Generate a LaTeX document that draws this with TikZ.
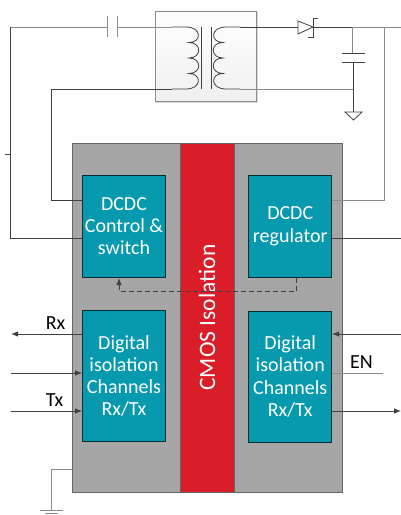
\documentclass[tikz,border=0pt]{standalone}
\usepackage{fontspec}
\usetikzlibrary{arrows.meta}
\setmainfont{Carlito}
\definecolor{tealbox}{HTML}{0799AD}
\definecolor{redbar}{HTML}{D91E2A}
\definecolor{graybox}{HTML}{A6A6A6}
\definecolor{wiredark}{HTML}{404040}
\definecolor{wirelight}{HTML}{8C8C8C}
\tikzset{
    block/.style={draw=black!70!tealbox, fill=tealbox, text=white, align=center, line width=0.8pt, inner sep=0pt,
        minimum width=83pt, font=\fontsize{20}{22.2}\selectfont},
    wire/.style={draw=wiredark, line width=0.8pt},
    lightwire/.style={draw=wirelight, line width=0.9pt},
    label/.style={font=\fontsize{20}{22}\selectfont, text=black, inner sep=0pt},
    >={Latex[length=7pt,width=5.5pt]}
}
\begin{document}
\begin{tikzpicture}[x=1pt, y=-1pt]
    \useasboundingbox (0,0) rectangle (401,515);

    % Transformer box
    \node[draw=black!15, fill=black!15, minimum width=101pt, minimum height=90pt] (shade) at (206.5,57) {};
    \node[draw=wirelight, line width=0.8pt, top color=white, bottom color=black!6, minimum width=101pt, minimum height=90pt, inner sep=0pt] (trafo) at (205.5,56) {};

    % Package
    \node[draw=black!60, fill=graybox, line width=1pt, minimum width=270pt, minimum height=349pt, inner sep=0pt] (chip) at (207,317.5) {};
    \node[draw=black!60, fill=redbar, text=white, line width=0.8pt, rotate=90, minimum width=349pt, minimum height=54pt, inner sep=0pt, font=\fontsize{23.5}{26}\selectfont] (iso) at (207,317.5) {CMOS Isolation};

    % Blocks
    \node[block, minimum height=101.5pt] (ctrl) at (124,226.25) {DCDC\\Control \&\\switch};
    \node[block, minimum height=101.5pt] (reg) at (290.25,226.25) {DCDC\\regulator};
    \node[block, minimum height=131pt] (digl) at (124,376) {Digital\\isolation\\Channels\\Rx/Tx};
    \node[block, minimum height=131pt] (digr) at (290.25,376.5) {Digital\\isolation\\Channels\\Rx/Tx};

    % Free ends
    \coordinate (capa) at (107,27);
    \coordinate (capb) at (117,27);
    \coordinate (priA) at (172,27);
    \coordinate (priB) at (172,89);
    \coordinate (secA) at (240,27);
    \coordinate (secB) at (240,89);
    \coordinate (diodeA) at (298,27);
    \coordinate (diodeB) at (313,27);
    \coordinate (capc) at (352,53);
    \coordinate (capd) at (353,62);
    \coordinate (gndA) at (353,112);
    \coordinate (gndB) at (51,510);

    % Coils
    \draw[wire] (priA) -- (186,27) .. controls (202,27) and (202,42.5) .. (189,42.5)
        .. controls (202,42.5) and (202,58) .. (189,58)
        .. controls (202,58) and (202,73.5) .. (189,73.5)
        .. controls (202,73.5) and (202,89) .. (186,89) -- (priB);
    \draw[wire] (secA) -- (226,27) .. controls (210,27) and (210,42.5) .. (223,42.5)
        .. controls (210,42.5) and (210,58) .. (223,58)
        .. controls (210,58) and (210,73.5) .. (223,73.5)
        .. controls (210,73.5) and (210,89) .. (226,89) -- (secB);
    \draw[wire] (201,27) -- (201,89);
    \draw[wire] (211,27) -- (211,89);

    % Primary side
    \draw[lightwire] (10,27) -- (capa);
    \draw[wire] (ctrl.west |- 0,238) -- (10,238) -- (10,27);
    \draw[lightwire] (capa |- 0,16) -- (capa |- 0,37);
    \draw[lightwire] (capb |- 0,16) -- (capb |- 0,37);
    \draw[lightwire] (capb) -- (priA);
    \draw[wire] (priB) -- (51,89) -- (51,200) -- (ctrl.west |- 0,200);
    \draw[wire] (5,154) -- (10,154);

    % Secondary side
    \draw[wire] (secA) -- (diodeA);
    \draw[wire, fill=white] (diodeA |- 0,21) -- (diodeB) -- (diodeA |- 0,34) -- cycle;
    \draw[wire] (318,18) -- (diodeB |- 0,18) -- (diodeB |- 0,37) -- (308,37);
    \draw[wire] (diodeB) -- (352,27);
    \draw[lightwire] (352,27) -- (401,27);
    \draw[lightwire] (352,27) -- (capc);
    \draw[wire] (342,53) -- (365,53);
    \draw[wire] (342,62) -- (365,62);
    \draw[wire] (capd) -- (gndA);
    \draw[lightwire] (secB) -- (353,89);
    \draw[wire, fill=white] (345,112) -- (362,112) -- (353.5,120) -- cycle;
    \draw[lightwire] (384,27) -- (384,200) -- (reg.east |- 0,200);
    \draw[wire] (reg.east |- 0,238) -- (401,238);

    % Feedback
    \draw[wire, dash pattern=on 5pt off 3pt, ->] (296,278) -- (296,291.5) -- (119,291.5) -- (119,278);

    % Signals
    \draw[wire, ->] (digl.west |- 0,334) -- (11,334) node[midway, above=4pt, label, xshift=9pt] (rx) {Rx};
    \draw[wire, ->] (11,373) -- (digl.west |- 0,373);
    \draw[wire, ->] (11,411) -- (digl.west |- 0,411) node[midway, above=4pt, label, xshift=8pt] (tx) {Tx};
    \draw[wire, ->] (401,334) -- (digr.east |- 0,334);
    \draw[lightwire] (digr.east |- 0,373) -- (383,373) node[midway, above=4pt, label, xshift=4pt] (en) {EN};
    \draw[wire, ->] (digr.east |- 0,411) -- (401,411);

    % Ground
    \draw[lightwire] (chip.west |- 0,469) -- (51,469) -- (gndB);
    \draw[lightwire] (40,510) -- (63,510);
    \draw[lightwire] (45,513.5) -- (58,513.5);
\end{tikzpicture}
\end{document}
